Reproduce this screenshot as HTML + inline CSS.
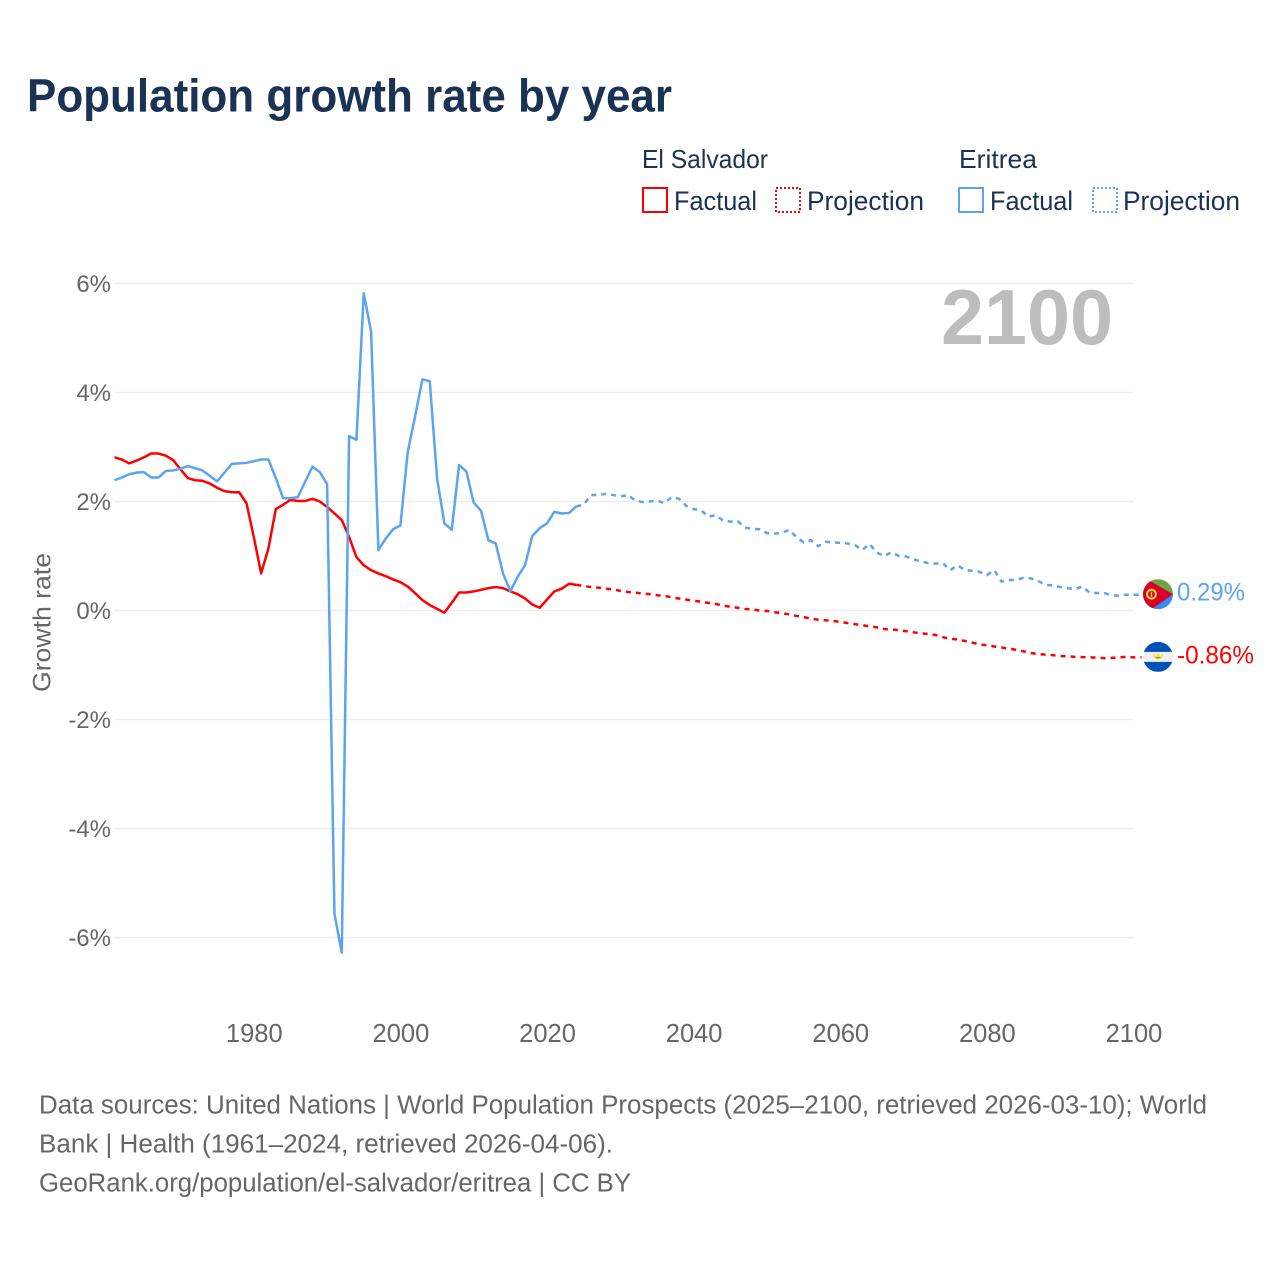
<!DOCTYPE html>
<html lang="en">
<head>
<meta charset="utf-8">
<title>Population growth rate by year</title>
<style>
html,body{margin:0;padding:0;background:#fff;width:1280px;height:1280px;overflow:hidden}
svg{display:block}
text{font-family:"Liberation Sans",sans-serif}
</style>
</head>
<body>
<svg id="chart" width="1280" height="1280" viewBox="0 0 1280 1280" xmlns="http://www.w3.org/2000/svg">
  <text x="27" y="111.5" font-size="46" font-weight="700" fill="#1a3253" textLength="645" lengthAdjust="spacingAndGlyphs">Population growth rate by year</text>

  <text x="642" y="168" font-size="26" fill="#1a3253" textLength="126" lengthAdjust="spacingAndGlyphs">El Salvador</text>
  <text x="959" y="168" font-size="26" fill="#1a3253" textLength="78" lengthAdjust="spacingAndGlyphs">Eritrea</text>

  <g>
    <rect x="643" y="188" width="24" height="24" fill="none" stroke="#ff0000" stroke-width="2"/>
    <text x="674" y="210" font-size="27" fill="#1a3253" textLength="83" lengthAdjust="spacingAndGlyphs">Factual</text>
  </g>
  <g>
    <rect x="776" y="188" width="24" height="24" fill="none" stroke="#ff0000" stroke-width="2" stroke-dasharray="2 2"/>
    <text x="807" y="210" font-size="27" fill="#1a3253" textLength="117" lengthAdjust="spacingAndGlyphs">Projection</text>
  </g>
  <g>
    <rect x="959" y="188" width="24" height="24" fill="none" stroke="#5ba4ee" stroke-width="2"/>
    <text x="990" y="210" font-size="27" fill="#1a3253" textLength="83" lengthAdjust="spacingAndGlyphs">Factual</text>
  </g>
  <g>
    <rect x="1093" y="188" width="24" height="24" fill="none" stroke="#5ba4ee" stroke-width="2" stroke-dasharray="2 2"/>
    <text x="1123" y="210" font-size="27" fill="#1a3253" textLength="117" lengthAdjust="spacingAndGlyphs">Projection</text>
  </g>

  <g id="grid"></g>
  <g id="yticks"></g>
  <g id="xticks"></g>

  <text transform="translate(50.5 692) rotate(-90)" font-size="25" fill="#666666" textLength="139" lengthAdjust="spacingAndGlyphs">Growth rate</text>
  <text x="941" y="344" font-size="78" font-weight="700" fill="#bdbdbd" textLength="172" lengthAdjust="spacingAndGlyphs">2100</text>

  <g id="series"></g>

  <g id="flag-eritrea">
    <clipPath id="clip-er"><circle cx="0" cy="0" r="15"/></clipPath>
    <g clip-path="url(#clip-er)">
      <rect x="-15" y="-15" width="30" height="15" fill="#6da544"/>
      <rect x="-15" y="0" width="30" height="15" fill="#338af3"/>
      <polygon points="-15,-11 15,0 -15,13 -15,15 -6,15 15,0 -6,-15 -15,-15" fill="none"/>
      <polygon points="-15,-15 -11,-15 15,0 -5,14 -15,15" fill="#d80027"/>
      <circle cx="-6.5" cy="0" r="4.4" fill="none" stroke="#ffda44" stroke-width="2"/>
      <rect x="-7.2" y="-2.5" width="1.4" height="5" fill="#ffda44"/>
    </g>
  </g>
  <g id="flag-salvador">
    <clipPath id="clip-sv"><circle cx="0" cy="0" r="15"/></clipPath>
    <g clip-path="url(#clip-sv)">
      <rect x="-15" y="-15" width="30" height="30" fill="#f0f0f0"/>
      <rect x="-15" y="-15" width="30" height="10" fill="#0052b4"/>
      <rect x="-15" y="5" width="30" height="10" fill="#0052b4"/>
      <path d="M-5,-2.5 A5,5 0 0 0 5,-2.5 L3,-2.5 A3,3 0 0 1 -3,-2.5 Z" fill="#ffda44"/>
      <polygon points="-3,0.8 0,-4 3,0.8" fill="#ffda44"/>
      <rect x="-2.5" y="0.2" width="5" height="1.2" fill="#6da544"/>
    </g>
  </g>
  <text id="label-er" x="1177" font-size="25" fill="#5ba4ee" textLength="68" lengthAdjust="spacingAndGlyphs"></text>
  <text id="label-sv" x="1177" font-size="25" fill="#ff0000" textLength="77" lengthAdjust="spacingAndGlyphs"></text>

  <g font-size="25.5" fill="#666666">
    <text x="39" y="1113.5" textLength="1168" lengthAdjust="spacingAndGlyphs">Data sources: United Nations | World Population Prospects (2025–2100, retrieved 2026-03-10); World</text>
    <text x="39" y="1152.5" textLength="574" lengthAdjust="spacingAndGlyphs">Bank | Health (1961–2024, retrieved 2026-04-06).</text>
    <text x="39" y="1191.5" textLength="592" lengthAdjust="spacingAndGlyphs">GeoRank.org/population/el-salvador/eritrea | CC BY</text>
  </g>
</svg>
<script>
const yTickValues = [6, 4, 2, 0, -2, -4, -6];
const xTickYears = [1980, 2000, 2020, 2040, 2060, 2080, 2100];
const factualStartYear = 1961;
const projectionStartYear = 2024;

const salvadorFactual = [2.81,2.77,2.70,2.75,2.81,2.88,2.88,2.84,2.76,2.59,2.43,2.39,2.38,2.33,2.25,2.19,2.17,2.17,1.97,1.35,0.68,1.14,1.86,1.94,2.03,2.01,2.01,2.05,2.00,1.90,1.78,1.66,1.35,0.98,0.83,0.74,0.68,0.63,0.57,0.52,0.44,0.32,0.19,0.10,0.03,-0.04,0.14,0.33,0.33,0.35,0.38,0.41,0.43,0.41,0.35,0.30,0.22,0.11,0.05,0.20,0.35,0.40,0.49,0.47];
const salvadorProjection = [0.47,0.45,0.43,0.42,0.40,0.39,0.36,0.34,0.33,0.31,0.30,0.28,0.27,0.24,0.22,0.20,0.18,0.16,0.14,0.12,0.09,0.07,0.05,0.03,0.02,0.00,-0.01,-0.03,-0.05,-0.07,-0.10,-0.12,-0.15,-0.17,-0.18,-0.19,-0.21,-0.23,-0.25,-0.27,-0.29,-0.31,-0.34,-0.35,-0.36,-0.38,-0.40,-0.42,-0.43,-0.45,-0.49,-0.52,-0.53,-0.56,-0.59,-0.62,-0.64,-0.66,-0.68,-0.70,-0.72,-0.75,-0.78,-0.80,-0.81,-0.82,-0.835,-0.84,-0.85,-0.855,-0.86,-0.865,-0.875,-0.87,-0.86,-0.85,-0.86];
const eritreaFactual = [2.39,2.44,2.50,2.53,2.54,2.44,2.44,2.56,2.57,2.60,2.65,2.61,2.57,2.47,2.37,2.53,2.69,2.70,2.71,2.74,2.77,2.77,2.43,2.06,2.06,2.08,2.36,2.64,2.54,2.32,-5.56,-6.28,3.20,3.13,5.82,5.12,1.11,1.32,1.49,1.56,2.91,3.56,4.24,4.21,2.43,1.60,1.48,2.67,2.55,1.98,1.83,1.29,1.23,0.68,0.35,0.62,0.83,1.37,1.51,1.60,1.81,1.78,1.79,1.91];
const eritreaProjection = [1.91,1.94,2.12,2.12,2.14,2.12,2.09,2.12,2.02,1.99,2.00,2.02,1.97,2.08,2.05,1.92,1.86,1.84,1.72,1.75,1.65,1.63,1.64,1.52,1.50,1.49,1.42,1.41,1.42,1.48,1.35,1.25,1.29,1.18,1.26,1.25,1.24,1.23,1.20,1.11,1.22,1.06,1.00,1.07,1.00,0.99,0.94,0.90,0.87,0.86,0.87,0.74,0.83,0.74,0.73,0.71,0.65,0.74,0.53,0.56,0.56,0.60,0.59,0.54,0.47,0.46,0.43,0.41,0.39,0.44,0.33,0.32,0.32,0.28,0.27,0.29,0.29];

const SVG_NS = 'http://www.w3.org/2000/svg';
const plotLeft = 114.5, plotRight = 1133.5;
function xScale(year){ return plotRight - (2100 - year) * (plotRight - plotLeft) / 139; }
function yScale(value){ return 610.5 - value * 54.5; }

function make(tag, attrs, parent){
  const el = document.createElementNS(SVG_NS, tag);
  for (const k in attrs) el.setAttribute(k, attrs[k]);
  parent.appendChild(el);
  return el;
}
const gridG = document.getElementById('grid');
const yG = document.getElementById('yticks');
const xG = document.getElementById('xticks');
const seriesG = document.getElementById('series');

yTickValues.forEach(function(v){
  const line = make('line', {x1: plotLeft, x2: plotRight, y1: yScale(v), y2: yScale(v), stroke: '#eeeeee', 'stroke-width': 1.5}, gridG);
  
  
  const t = make('text', {x: 111, y: yScale(v) + 8.5, 'text-anchor': 'end', 'font-size': 24, fill: '#666666'}, yG);
  t.textContent = v + '%';
  
  
});
xTickYears.forEach(function(y){
  const t = make('text', {x: xScale(y) + 0.5, y: 1042, 'text-anchor': 'middle', 'font-size': 25.5, fill: '#666666'}, xG);
  t.textContent = y;
  
  
});

function pathFrom(values, startYear, extend){
  const pts = values.map(function(v, i){ return xScale(startYear + i).toFixed(2) + ',' + yScale(v).toFixed(2); });
  if (extend) pts.push((plotRight + 8) + ',' + yScale(values[values.length - 1]).toFixed(2));
  return 'M' + pts.join('L');
}
function drawLine(values, startYear, color, dashed, name){
  const attrs = {d: pathFrom(values, startYear, dashed), fill: 'none', stroke: color, 'stroke-width': 2.5, 'stroke-linejoin': 'round'};
  if (dashed) attrs['stroke-dasharray'] = '5 5';
  const p = make('path', attrs, seriesG);
  
  
}
drawLine(salvadorProjection, projectionStartYear, '#ff0000', true, 'el-salvador-projection-line');
drawLine(eritreaProjection, projectionStartYear, '#5ba4ee', true, 'eritrea-projection-line');
drawLine(salvadorFactual, factualStartYear, '#ff0000', false, 'el-salvador-factual-line');
drawLine(eritreaFactual, factualStartYear, '#5ba4ee', false, 'eritrea-factual-line');

const erLast = eritreaProjection[eritreaProjection.length - 1];
const svLast = salvadorProjection[salvadorProjection.length - 1];
document.getElementById('flag-eritrea').setAttribute('transform', 'translate(1158 ' + (yScale(erLast) - 0.5) + ')');
document.getElementById('flag-salvador').setAttribute('transform', 'translate(1158 ' + (yScale(svLast) - 0.5) + ')');
const lblEr = document.getElementById('label-er');
lblEr.setAttribute('y', yScale(erLast) + 6);
lblEr.textContent = erLast.toFixed(2) + '%';
const lblSv = document.getElementById('label-sv');
lblSv.setAttribute('y', yScale(svLast) + 6);
lblSv.textContent = svLast.toFixed(2) + '%';
</script>
</body>
</html>
